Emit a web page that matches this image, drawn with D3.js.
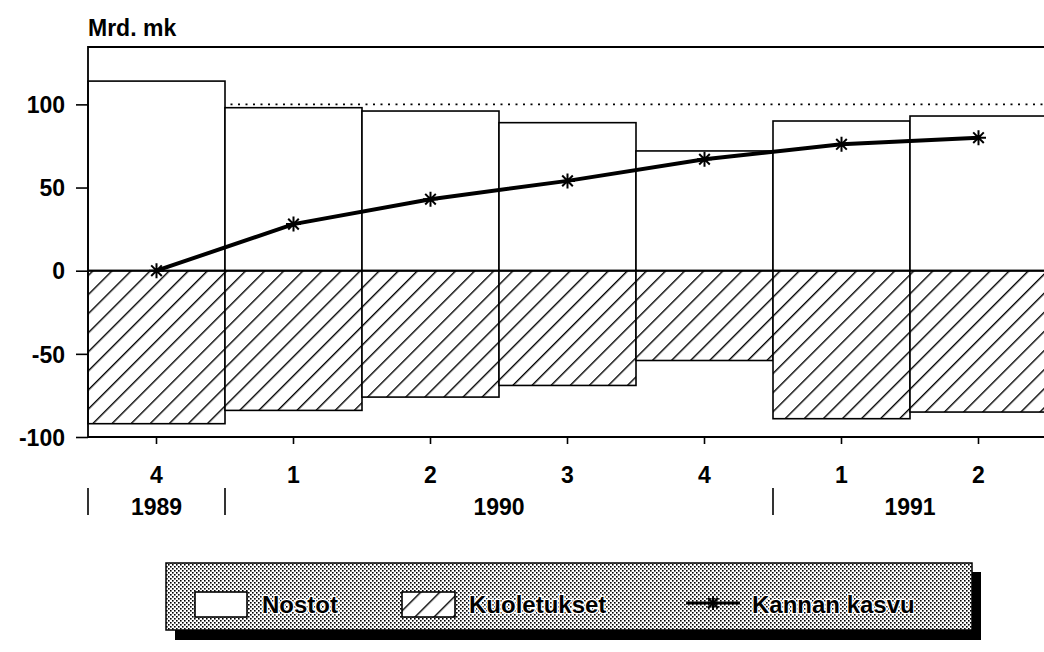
<!DOCTYPE html>
<html>
<head>
<meta charset="utf-8">
<script src="https://cdn.jsdelivr.net/npm/d3@7"></script>
<style>
  body { margin: 0; background: #fff; }
  text { font-family: "Liberation Sans", Arial, sans-serif; fill: #000; }
</style>
</head>
<body>
<div id="chart"></div>
<script>
"use strict";

// data
var quarters = ["4", "1", "2", "3", "4", "1", "2"];
var years = [
  { label: "1989", from: 0, to: 1 },
  { label: "1990", from: 1, to: 5 },
  { label: "1991", from: 5, to: 7 }
];
var nostot = [114, 98, 96, 89, 72, 90, 93];
var kuoletukset = [-92, -84, -76, -69, -54, -89, -85];
var kannanKasvu = [0, 28, 43, 54, 67, 76, 80];
var yTicks = [100, 50, 0, -50, -100];
var legendLabels = ["Nostot", "Kuoletukset", "Kannan kasvu"];

var width = 1044;
var height = 652;
var plot = { left: 88, right: 1047, top: 47, bottom: 437 };
var font = "'Liberation Sans', Arial, sans-serif";

var svg = d3.select("#chart").append("svg")
  .attr("width", width).attr("height", height);

var defs = svg.append("defs");
var hatch = defs.append("pattern").attr("id", "hatch")
  .attr("patternUnits", "userSpaceOnUse")
  .attr("width", 13.5).attr("height", 13.5)
  .attr("patternTransform", "rotate(45)");
hatch.append("rect").attr("width", 13.5).attr("height", 13.5).attr("fill", "#fff");
hatch.append("line").attr("x1", 0).attr("y1", 0).attr("x2", 0).attr("y2", 13.5)
  .attr("stroke", "#000").attr("stroke-width", 2.8);

var dots = defs.append("pattern").attr("id", "dots")
  .attr("patternUnits", "userSpaceOnUse")
  .attr("width", 4).attr("height", 4);
dots.append("rect").attr("width", 4).attr("height", 4).attr("fill", "#fff");
dots.append("rect").attr("width", 1.6).attr("height", 1.6).attr("fill", "#000");
dots.append("rect").attr("x", 2).attr("y", 2).attr("width", 1.6).attr("height", 1.6).attr("fill", "#000");

var x = d3.scaleBand().domain(d3.range(quarters.length))
  .range([plot.left, plot.right]).padding(0);
var y = d3.scaleLinear().domain([-100, 134.5]).range([plot.bottom, plot.top]);

// dotted grid line at 100
svg.append("line")
  .attr("x1", plot.left).attr("x2", width)
  .attr("y1", y(100)).attr("y2", y(100))
  .attr("stroke", "#000").attr("stroke-width", 1.8)
  .attr("stroke-dasharray", "2,5.5");

// bars
svg.selectAll(".nost").data(nostot).enter().append("rect")
  .attr("class", "nost")
  .attr("x", function (d, i) { return x(i); })
  .attr("width", x.bandwidth())
  .attr("y", function (d) { return y(d); })
  .attr("height", function (d) { return y(0) - y(d); })
  .attr("fill", "#fff").attr("stroke", "#000").attr("stroke-width", 1.6);

svg.selectAll(".kuol").data(kuoletukset).enter().append("rect")
  .attr("class", "kuol")
  .attr("x", function (d, i) { return x(i); })
  .attr("width", x.bandwidth())
  .attr("y", y(0))
  .attr("height", function (d) { return y(d) - y(0); })
  .attr("fill", "url(#hatch)").attr("stroke", "#000").attr("stroke-width", 1.6);

// frame and zero line
svg.append("path")
  .attr("d", "M" + width + "," + plot.top + "H" + plot.left + "V" + plot.bottom + "H" + width)
  .attr("fill", "none").attr("stroke", "#000").attr("stroke-width", 1.8);
svg.append("line")
  .attr("x1", plot.left).attr("x2", width)
  .attr("y1", y(0)).attr("y2", y(0))
  .attr("stroke", "#000").attr("stroke-width", 2);

// y axis
var yAxis = svg.append("g")
  .attr("transform", "translate(" + plot.left + ",0)")
  .call(d3.axisLeft(y).tickValues(yTicks).tickSize(12).tickPadding(11)
    .tickFormat(function (d) { return String(d); }));
yAxis.select(".domain").remove();
yAxis.selectAll("line").attr("stroke-width", 1.6);
yAxis.selectAll("text").style("font-size", "23px").style("font-weight", "bold")
  .style("font-family", font).attr("dy", "0.36em");

// x axis
var xAxis = svg.append("g")
  .attr("transform", "translate(0," + plot.bottom + ")")
  .call(d3.axisBottom(x).tickSize(7).tickPadding(23).tickFormat(function (i) { return quarters[i]; }));
xAxis.select(".domain").remove();
xAxis.selectAll("line").attr("stroke-width", 1.6);
xAxis.selectAll("text").style("font-size", "23px").style("font-weight", "bold")
  .style("font-family", font);

// year labels and separators
var seps = [0, 1, 5];
svg.selectAll(".sep").data(seps).enter().append("line")
  .attr("class", "sep")
  .attr("x1", function (d) { return x(d); }).attr("x2", function (d) { return x(d); })
  .attr("y1", 488).attr("y2", 515)
  .attr("stroke", "#000").attr("stroke-width", 1.6);
svg.selectAll(".year").data(years).enter().append("text")
  .attr("class", "year")
  .attr("x", function (d) { return (x(d.from) + x(d.to - 1) + x.bandwidth()) / 2; })
  .attr("y", 515)
  .attr("text-anchor", "middle")
  .style("font-size", "23px").style("font-weight", "bold")
  .text(function (d) { return d.label; });

// unit label
svg.append("text").attr("x", 88).attr("y", 36)
  .style("font-size", "23px").style("font-weight", "bold").text("Mrd. mk");

// line with star markers
function star(r) {
  var k = r * Math.SQRT1_2;
  return "M0," + (-r) + "V" + r + "M" + (-r) + ",0H" + r +
    "M" + (-k) + "," + (-k) + "L" + k + "," + k +
    "M" + (-k) + "," + k + "L" + k + "," + (-k);
}
var line = d3.line()
  .x(function (d, i) { return x(i) + x.bandwidth() / 2; })
  .y(function (d) { return y(d); });
svg.append("path").datum(kannanKasvu)
  .attr("d", line).attr("fill", "none")
  .attr("stroke", "#000").attr("stroke-width", 4);
svg.selectAll(".star").data(kannanKasvu).enter().append("path")
  .attr("class", "star")
  .attr("transform", function (d, i) { return "translate(" + (x(i) + x.bandwidth() / 2) + "," + y(d) + ")"; })
  .attr("d", star(7.5))
  .attr("stroke", "#000").attr("stroke-width", 2).attr("fill", "none");

// legend
var lg = svg.append("g");
lg.append("rect").attr("x", 175).attr("y", 572).attr("width", 806).attr("height", 68).attr("fill", "#000");
lg.append("rect").attr("x", 166).attr("y", 563).attr("width", 806).attr("height", 67)
  .attr("fill", "url(#dots)").attr("stroke", "#000").attr("stroke-width", 1.5);

lg.append("rect").attr("x", 195).attr("y", 592).attr("width", 52).attr("height", 25)
  .attr("fill", "#fff").attr("stroke", "#000").attr("stroke-width", 1.6);
lg.append("rect").attr("x", 402).attr("y", 592).attr("width", 53).attr("height", 25)
  .attr("fill", "url(#hatch)").attr("stroke", "#000").attr("stroke-width", 1.6);
lg.append("line").attr("x1", 686).attr("x2", 740).attr("y1", 603).attr("y2", 603)
  .attr("stroke", "#000").attr("stroke-width", 3);
lg.append("path").attr("transform", "translate(713,603)").attr("d", star(7))
  .attr("stroke", "#000").attr("stroke-width", 2).attr("fill", "none");

var legendX = [262, 469, 752];
lg.selectAll(".lt").data(legendLabels).enter().append("text")
  .attr("class", "lt")
  .attr("x", function (d, i) { return legendX[i]; })
  .attr("y", 613)
  .style("font-size", "24px").style("font-weight", "bold")
  .attr("stroke", "#fff").attr("stroke-width", 2.5).attr("paint-order", "stroke")
  .text(function (d) { return d; });
</script>
</body>
</html>
